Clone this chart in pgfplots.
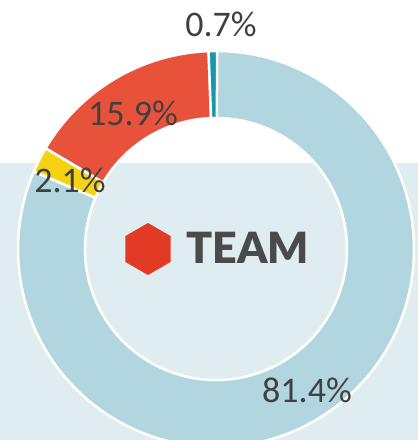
\documentclass[border=0pt]{standalone}
\usepackage{pgfplots}
\usepackage{pgfplotstable}
\pgfplotsset{compat=1.18}
\usepackage{fontspec}
\setmainfont{Carlito}
\newfontfamily\logofont{Lato Black}

\definecolor{ringblue}{HTML}{B2D6DF}
\definecolor{ringyellow}{HTML}{F5D314}
\definecolor{ringred}{HTML}{E8523A}
\definecolor{ringteal}{HTML}{1797AD}
\definecolor{bandcol}{HTML}{DFEDF1}
\definecolor{labelgray}{HTML}{404040}
\definecolor{logored}{HTML}{E33A25}
\definecolor{logogray}{HTML}{4A4A4A}

% shares in percent, drawn clockwise from 12 o'clock; lx/ly = label base point
\pgfplotstableread{
share color lx ly
81.4 ringblue 307 38
2.1 ringyellow 70 248
15.9 ringred 133 315
0.7 ringteal 221 403
}\shares

% ring geometry (axis units = bp)
\def\cx{216}
\def\cy{191}
\def\rout{198}
\def\rin{131}

% precompute start/end angles of each wedge
\xdef\cumshare{0}
\foreach \i in {0,...,3}{%
  \pgfplotstablegetelem{\i}{share}\of\shares
  \let\v\pgfplotsretval
  \expandafter\xdef\csname segval\i\endcsname{\v}%
  \pgfmathsetmacro\aS{90-3.6*\cumshare}%
  \pgfmathsetmacro\aE{90-3.6*(\cumshare+\v)}%
  \expandafter\xdef\csname segstart\i\endcsname{\aS}%
  \expandafter\xdef\csname segend\i\endcsname{\aE}%
  \pgfmathsetmacro\newcum{\cumshare+\v}%
  \xdef\cumshare{\newcum}%
  \pgfplotstablegetelem{\i}{color}\of\shares
  \expandafter\xdef\csname segcolor\i\endcsname{\pgfplotsretval}%
  \pgfplotstablegetelem{\i}{lx}\of\shares
  \expandafter\xdef\csname seglx\i\endcsname{\pgfplotsretval}%
  \pgfplotstablegetelem{\i}{ly}\of\shares
  \expandafter\xdef\csname segly\i\endcsname{\pgfplotsretval}%
}

\begin{document}
\begin{tikzpicture}
\begin{axis}[
  hide axis, scale only axis,
  width=418bp, height=440bp,
  xmin=0, xmax=418, ymin=0, ymax=440,
  clip=true, at={(0,0)}, anchor=south west,
]
% lower background band
\addplot[fill=bandcol, draw=none] coordinates {(0,0) (418,0) (418,277) (0,277)} -- cycle;

% donut wedges
\pgfplotsinvokeforeach{0,...,3}{
  \fill[\csname segcolor#1\endcsname, draw=white, line width=2.5bp, shift={(axis cs:\cx,\cy)}]
    (\csname segstart#1\endcsname:\rout bp)
    arc[start angle=\csname segstart#1\endcsname, end angle=\csname segend#1\endcsname, radius=\rout bp]
    -- (\csname segend#1\endcsname:\rin bp)
    arc[start angle=\csname segend#1\endcsname, end angle=\csname segstart#1\endcsname, radius=\rin bp]
    -- cycle;
}

% value labels
\pgfplotsinvokeforeach{0,...,3}{
  \node[anchor=base, inner sep=0pt, text=labelgray, font=\fontsize{36bp}{40bp}\selectfont]
    at (axis cs:\csname seglx#1\endcsname,\csname segly#1\endcsname)
    {\csname segval#1\endcsname\%};
}

% centre logo
\fill[logored, shift={(axis cs:148,191)}]
  (90:26bp) -- (150:26bp) -- (210:26bp) -- (270:26bp) -- (330:26bp) -- (30:26bp) -- cycle;
\node[anchor=base west, inner sep=0pt, text=logogray,
      font=\logofont\fontsize{43bp}{46bp}\selectfont]
  at (axis cs:186,177) {TEAM};
\end{axis}
\pgfresetboundingbox
\path[use as bounding box] (0,0) rectangle (418bp,440bp);
\end{tikzpicture}
\end{document}
